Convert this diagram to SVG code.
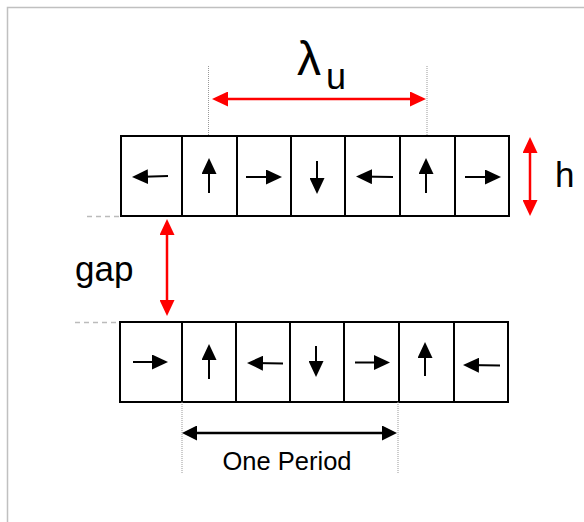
<svg xmlns="http://www.w3.org/2000/svg" width="584" height="522" viewBox="0 0 584 522">
<style>
.cell{fill:#fff;stroke:#000;stroke-width:2}
.mag{stroke:#000;stroke-width:2;fill:none;marker-end:url(#ah)}
.red{stroke:#f00;stroke-width:2.5;fill:none;marker-start:url(#rh);marker-end:url(#rh)}
.blk{stroke:#000;stroke-width:2.5;fill:none;marker-start:url(#bh);marker-end:url(#bh)}
.dot{stroke:#999;stroke-width:1;stroke-dasharray:1 1;fill:none}
.dash{stroke:#bbb;stroke-width:1.5;stroke-dasharray:5 4;fill:none}
text{font-family:"Liberation Sans",Arial,sans-serif;fill:#000}
</style>
<defs>
<marker id="ah" markerUnits="userSpaceOnUse" markerWidth="16" markerHeight="15" refX="12" refY="7.5" orient="auto" viewBox="0 0 16 15"><path d="M0,0 L16,7.5 L0,15 z" fill="#000"/></marker>
<marker id="rh" markerUnits="userSpaceOnUse" markerWidth="16" markerHeight="15" refX="12" refY="7.5" orient="auto-start-reverse" viewBox="0 0 16 15"><path d="M0,0 L16,7.5 L0,15 z" fill="#f00"/></marker>
<marker id="bh" markerUnits="userSpaceOnUse" markerWidth="15" markerHeight="15" refX="11" refY="7.5" orient="auto-start-reverse" viewBox="0 0 15 15"><path d="M0,0 L15,7.5 L0,15 z" fill="#000"/></marker>
</defs>
<path d="M7.5,530 V7.5 H590" fill="none" stroke="#c0c0c0" stroke-width="1.5"/>
<g id="top-row">
<g id="t1"><rect class="cell" x="121" y="136" width="61" height="80"/><line class="mag" x1="168" y1="176" x2="136" y2="177"/></g>
<g id="t2"><rect class="cell" x="182" y="136" width="55" height="80"/><line class="mag" x1="209" y1="193" x2="209" y2="162"/></g>
<g id="t3"><rect class="cell" x="237" y="136" width="54" height="80"/><line class="mag" x1="246" y1="177" x2="278" y2="177"/></g>
<g id="t4"><rect class="cell" x="291" y="136" width="54" height="80"/><line class="mag" x1="317" y1="161" x2="317" y2="190"/></g>
<g id="t5"><rect class="cell" x="345" y="136" width="55" height="80"/><line class="mag" x1="393" y1="177" x2="360" y2="176.5"/></g>
<g id="t6"><rect class="cell" x="400" y="136" width="55" height="80"/><line class="mag" x1="426" y1="193" x2="426" y2="162"/></g>
<g id="t7"><rect class="cell" x="455" y="136" width="54" height="80"/><line class="mag" x1="465" y1="177" x2="497" y2="177"/></g>
</g>
<g id="bottom-row">
<g id="b1"><rect class="cell" x="120" y="322" width="62" height="80"/><line class="mag" x1="133" y1="362" x2="164" y2="362"/></g>
<g id="b2"><rect class="cell" x="182" y="322" width="54" height="80"/><line class="mag" x1="209" y1="379" x2="209" y2="348"/></g>
<g id="b3"><rect class="cell" x="236" y="322" width="54" height="80"/><line class="mag" x1="283" y1="363.5" x2="251" y2="363"/></g>
<g id="b4"><rect class="cell" x="290" y="322" width="54" height="80"/><line class="mag" x1="316" y1="346" x2="316" y2="373"/></g>
<g id="b5"><rect class="cell" x="344" y="322" width="55" height="80"/><line class="mag" x1="355" y1="362.5" x2="386" y2="362.5"/></g>
<g id="b6"><rect class="cell" x="399" y="322" width="55" height="80"/><line class="mag" x1="425" y1="376" x2="425" y2="346"/></g>
<g id="b7"><rect class="cell" x="454" y="322" width="54" height="80"/><line class="mag" x1="500" y1="365.5" x2="467" y2="365"/></g>
</g>
<g id="connectors">
<line class="dot" x1="208.5" y1="66" x2="208.5" y2="136"/>
<line class="dot" x1="427" y1="66" x2="427" y2="136"/>
<line class="dot" x1="182" y1="402" x2="182" y2="474"/>
<line class="dot" x1="398" y1="402" x2="398" y2="474"/>
<line class="dash" x1="87" y1="216.5" x2="121" y2="216.5"/>
<line class="dash" x1="75" y1="322.5" x2="120" y2="322.5"/>
<line class="red" x1="216" y1="99" x2="422" y2="99"/>
<line class="red" x1="167" y1="223" x2="167" y2="312"/>
<line class="red" x1="530" y1="141" x2="530" y2="212"/>
<line class="blk" x1="186" y1="433" x2="393" y2="433"/>
</g>
<g id="labels">
<text x="297" y="75" font-size="48">λ</text>
<text x="326" y="89" font-size="36">u</text>
<text x="75" y="281" font-size="35">gap</text>
<text x="555" y="187" font-size="35">h</text>
<text x="287" y="470" font-size="25.5" text-anchor="middle">One Period</text>
</g>
</svg>
